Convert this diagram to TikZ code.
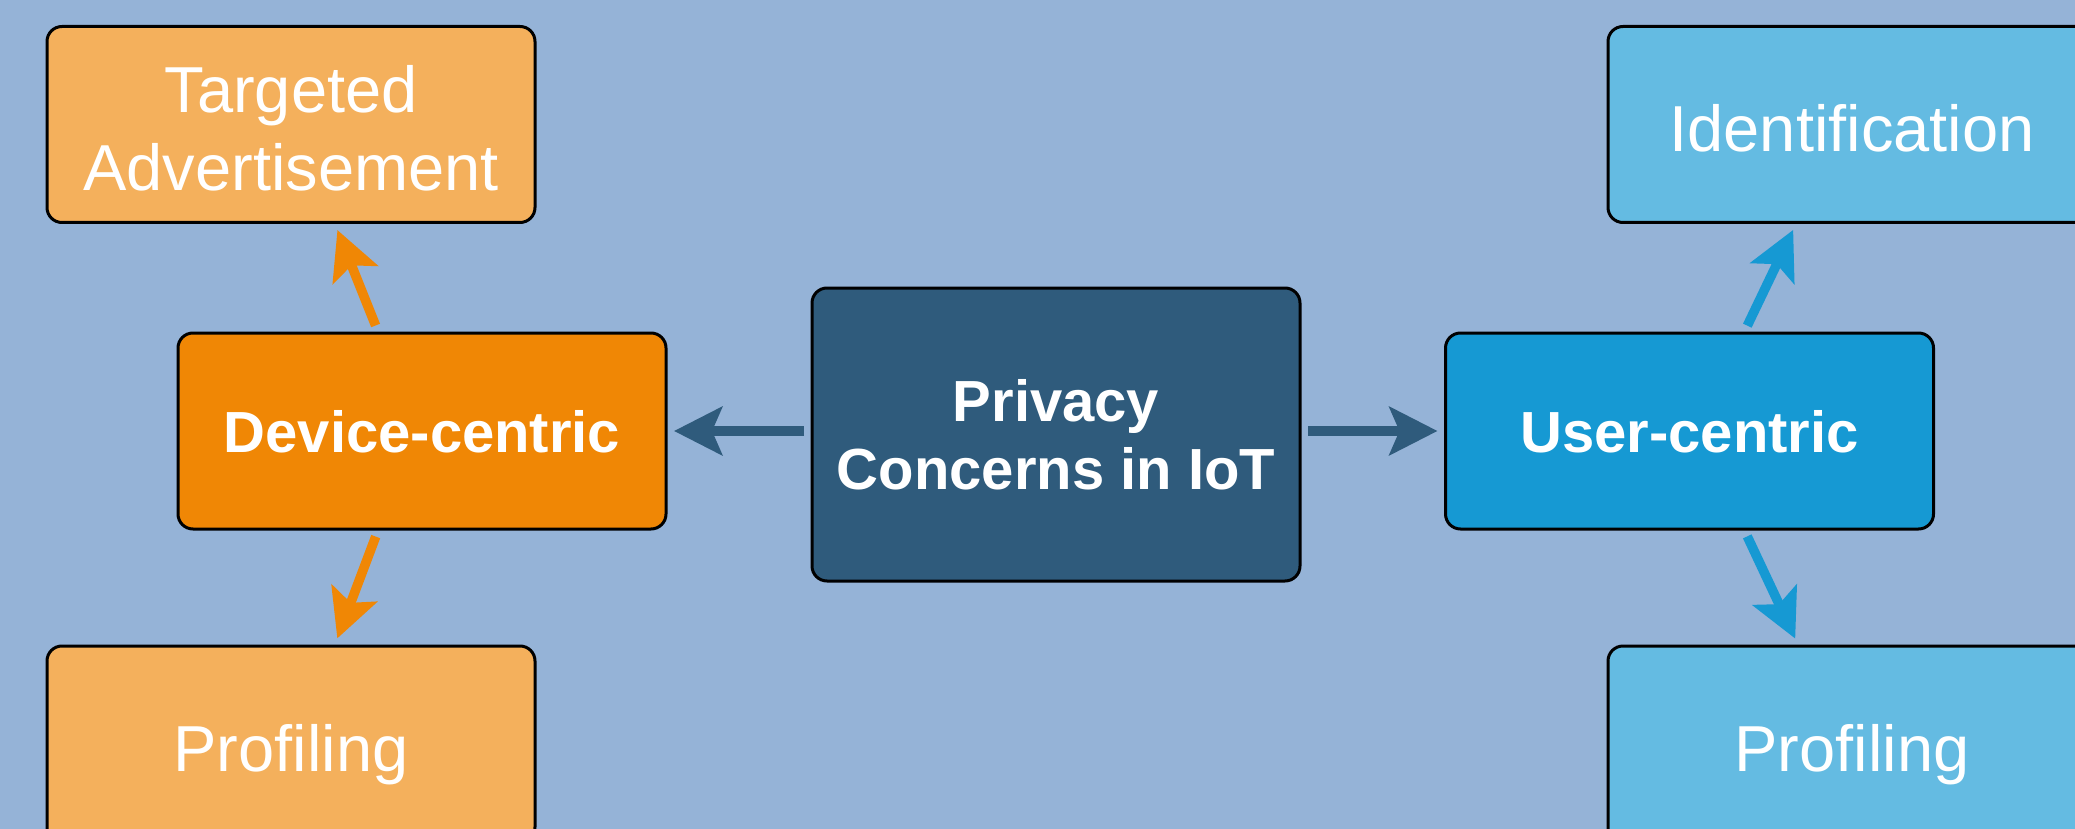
\documentclass[tikz,border=0pt]{standalone}
\usepackage{fontspec}
\setmainfont{Liberation Sans}
\usetikzlibrary{arrows.meta}

\definecolor{bgblue}{HTML}{95B3D7}
\definecolor{navy}{HTML}{2F5B7C}
\definecolor{orangedark}{HTML}{F08705}
\definecolor{orangelight}{HTML}{F4B05C}
\definecolor{bluedark}{HTML}{1699D3}
\definecolor{bluelight}{HTML}{64BBE2}

\tikzset{
  box/.style={draw=black, line width=3pt, rounded corners=15pt,
    minimum width=488pt, minimum height=196pt, inner sep=0pt,
    text=white, align=center},
  leaf/.style={box, font=\fontsize{65}{78}\selectfont,
    text height=55pt, text depth=0pt},
  leaftwo/.style={box, font=\fontsize{65}{78}\selectfont,
    text height=132pt, text depth=0pt},
  hub/.style={box, font=\fontsize{58}{68}\selectfont\bfseries,
    text height=42pt, text depth=0pt},
  rootbox/.style={box, minimum height=293pt,
    font=\fontsize{58}{68}\selectfont\bfseries,
    text height=110pt, text depth=0pt},
  link/.style={line width=9.5pt,
    -{Stealth[length=48pt, width=48pt, inset=10pt]},
    shorten <=6.5pt, shorten >=6.5pt}
}

\begin{document}
\begin{tikzpicture}[x=1pt, y=-1pt]
  \useasboundingbox (0,0) rectangle (2075,829);
  \fill[bgblue] (0,0) rectangle (2075,829);
  \clip (0,0) rectangle (2075,829);

  % central topic
  \node[rootbox, fill=navy] (priv) at (1056,434.5) {Privacy\\Concerns in IoT};

  % the two viewpoints
  \node[hub, fill=orangedark] (dev)  at (422,431)  {Device-centric};
  \node[hub, fill=bluedark]   (user) at (1689.5,431) {User-centric};

  % concerns on the device side
  \node[leaftwo, fill=orangelight] (ta)    at (291,124.5) {Targeted\\Advertisement};
  \node[leaf, fill=orangelight]    (profl) at (291,744)   {Profiling};

  % concerns on the user side
  \node[leaf, fill=bluelight] (ident) at (1852,124.5) {Identification};
  \node[leaf, fill=bluelight] (profr) at (1852,744)   {Profiling};

  % connectors
  \draw[link, navy] (priv.west |- dev.east) -- (dev.east);
  \draw[link, navy] (priv.east |- user.west) -- (user.west);

  \draw[link, orangedark] ([xshift=-44pt]dev.north) -- ([xshift=44pt]ta.south);
  \draw[link, orangedark] ([xshift=-44pt]dev.south) -- ([xshift=44pt]profl.north);

  \draw[link, bluedark] ([xshift=55pt]user.north) -- ([xshift=-56pt]ident.south);
  \draw[link, bluedark] ([xshift=55pt]user.south) -- ([xshift=-54pt]profr.north);
\end{tikzpicture}
\end{document}
